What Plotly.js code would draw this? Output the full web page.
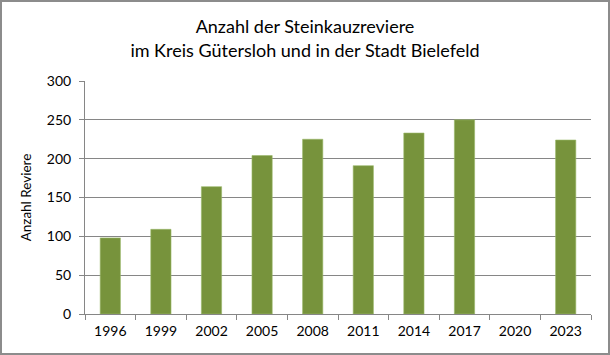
<!DOCTYPE html>
<html>
<head>
<meta charset="utf-8">
<script src="https://cdn.plot.ly/plotly-3.0.1.min.js"></script>
<style>
html,body{margin:0;padding:0;background:#fff;}
#wrap{position:relative;width:610px;height:355px;}
#chart{width:610px;height:355px;}
#frame{position:absolute;left:0;top:0;width:610px;height:355px;box-sizing:border-box;border:2px solid #8c8c8c;pointer-events:none;}
</style>
</head>
<body>
<div id="wrap"><div id="chart"></div><div id="frame"></div></div>
<script>
const years = ["1996","1999","2002","2005","2008","2011","2014","2017","2020","2023"];
const reviere = [98, 109, 164, 204, 225, 191, 233, 250, null, 224];
const yTicks = [0, 50, 100, 150, 200, 250, 300];

const fontFam = "Lato, 'Open Sans', sans-serif";

Plotly.newPlot('chart', [{
  type: 'bar',
  x: years,
  y: reviere,
  marker: {color: '#77933C', line: {color: '#9bb86a', width: 0.6}},
  hoverinfo: 'x+y'
}], {
  width: 610, height: 355,
  margin: {l: 85, r: 19, t: 81, b: 41, pad: 0},
  paper_bgcolor: '#ffffff',
  plot_bgcolor: '#ffffff',
  bargap: 0.6,
  showlegend: false,
  font: {family: fontFam, color: '#000000', size: 14},
  title: {
    text: 'Anzahl der Steinkauzreviere<br>im Kreis Gütersloh und in der Stadt Bielefeld',
    x: 0.5, xanchor: 'center', xref: 'container',
    yref: 'container', y: 0.906, yanchor: 'top',
    font: {family: fontFam, size: 18, color: '#000000'}
  },
  xaxis: {
    type: 'category',
    tickvals: years, ticktext: years,
    showline: true, linecolor: '#868686', linewidth: 1,
    ticks: 'outside', tickson: 'boundaries', ticklen: 5, tickcolor: '#868686',
    ticklabelstandoff: 4,
    showgrid: false, zeroline: false,
    tickfont: {family: fontFam, size: 14, color: '#000'}
  },
  yaxis: {
    range: [0, 300],
    tickvals: yTicks,
    showline: true, linecolor: '#868686', linewidth: 1,
    ticks: 'outside', ticklen: 5, tickcolor: '#868686',
    ticklabelstandoff: 5,
    showgrid: true, gridcolor: '#868686', gridwidth: 1,
    zeroline: false,
    tickfont: {family: fontFam, size: 14, color: '#000'},
    title: {text: 'Anzahl Reviere', standoff: 12, font: {family: fontFam, size: 13.5, color: '#000'}}
  }
}, {displayModeBar: false, staticPlot: true});
</script>
</body>
</html>
